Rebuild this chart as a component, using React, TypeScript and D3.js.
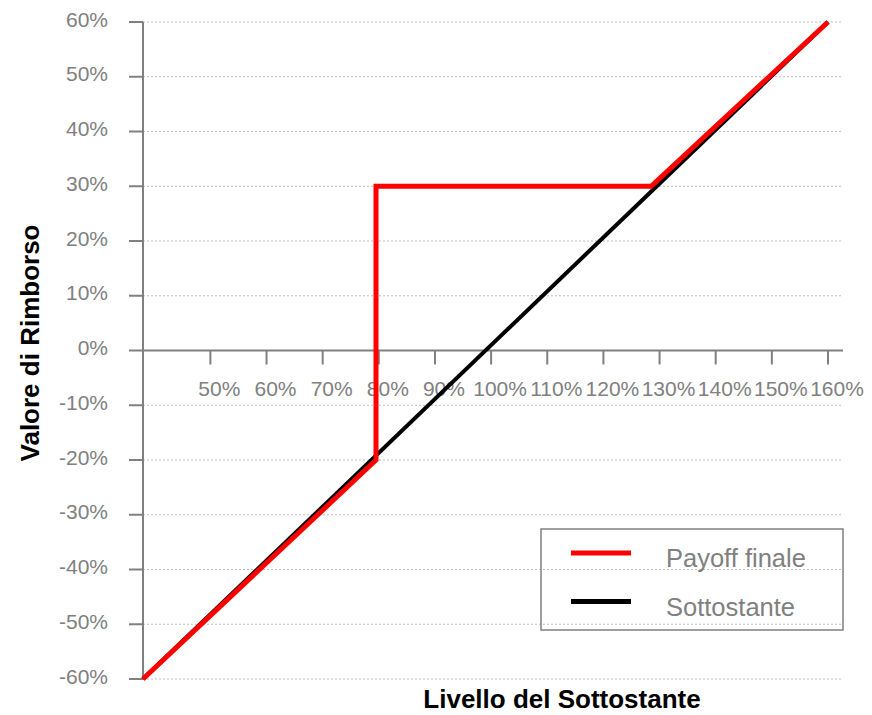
import React from "react";
import * as d3 from "d3";

// Underlying level (%) and redemption value (%)
const underlyingX = [38, 160];
const underlyingY = [-60, 60];

const payoffX = [38, 79.5, 79.5, 128.5, 160];
const payoffY = [-60, -20, 30, 30, 60];

const yTicks = [60, 50, 40, 30, 20, 10, 0, -10, -20, -30, -40, -50, -60];
const xTicks = [50, 60, 70, 80, 90, 100, 110, 120, 130, 140, 150, 160];

const seriesNames = ["Payoff finale", "Sottostante"];
const seriesColors = ["#ff0000", "#000000"];

const W = 872;
const H = 715;
const FONT = "'Liberation Sans', Arial, Helvetica, sans-serif";
const GRAY = "#808080";

export default function App() {
  const x = d3.scaleLinear().domain([38, 160]).range([143, 828]);
  const y = d3.scaleLinear().domain([-60, 60]).range([679, 22]);
  const gridRight = 843;

  const line = d3
    .line<[number, number]>()
    .x((d) => x(d[0]))
    .y((d) => y(d[1]));

  const under: [number, number][] = underlyingX.map((v, i) => [v, underlyingY[i]]);
  const payoff: [number, number][] = payoffX.map((v, i) => [v, payoffY[i]]);

  const legend = { x0: 541, y0: 529, x1: 843, y1: 630 };

  return (
    <svg
      width={W}
      height={H}
      style={{ position: "absolute", left: 0, top: 0, background: "#fff" }}
      fontFamily={FONT}
    >
      {/* horizontal gridlines */}
      {yTicks
        .filter((t) => t !== 0)
        .map((t) => (
          <line
            key={"g" + t}
            x1={x(38)}
            x2={gridRight}
            y1={y(t)}
            y2={y(t)}
            stroke="#bdbdbd"
            strokeWidth={1}
            strokeDasharray="2,2"
          />
        ))}

      {/* y axis */}
      <line x1={x(38)} x2={x(38)} y1={y(60)} y2={y(-60)} stroke={GRAY} strokeWidth={2} />
      {yTicks.map((t) => (
        <g key={"y" + t}>
          <line x1={x(38) - 14} x2={x(38)} y1={y(t)} y2={y(t)} stroke={GRAY} strokeWidth={2} />
          <text
            x={108}
            y={y(t) + 4.5}
            textAnchor="end"
            fontSize={21}
            fill={GRAY}
          >
            {t + "%"}
          </text>
        </g>
      ))}

      {/* x axis on the zero line */}
      <line x1={x(38)} x2={gridRight} y1={y(0)} y2={y(0)} stroke={GRAY} strokeWidth={2} />
      {xTicks.map((t) => (
        <g key={"x" + t}>
          <line x1={x(t)} x2={x(t)} y1={y(0)} y2={y(0) + 14} stroke={GRAY} strokeWidth={2} />
          <text x={x(t) + 9} y={396} textAnchor="middle" fontSize={21} fill={GRAY}>
            {t + "%"}
          </text>
        </g>
      ))}

      {/* series */}
      <path d={line(under) || ""} fill="none" stroke={seriesColors[1]} strokeWidth={4} />
      <path
        d={line(payoff) || ""}
        fill="none"
        stroke={seriesColors[0]}
        strokeWidth={5}
        strokeLinejoin="miter"
      />

      {/* legend */}
      <rect
        x={legend.x0}
        y={legend.y0}
        width={legend.x1 - legend.x0}
        height={legend.y1 - legend.y0}
        fill="none"
        stroke={GRAY}
        strokeWidth={1.5}
      />
      {seriesNames.map((name, i) => {
        const ly = 553 + i * 48.5;
        return (
          <g key={name}>
            <line x1={571} x2={631} y1={ly} y2={ly} stroke={seriesColors[i]} strokeWidth={5} />
            <text x={666} y={ly + 14} fontSize={25.5} fill={GRAY}>
              {name}
            </text>
          </g>
        );
      })}

      {/* axis titles */}
      <text x={562} y={708} textAnchor="middle" fontSize={26} fontWeight="bold" fill="#000">
        Livello del Sottostante
      </text>
      <text
        transform={`translate(39, 343) rotate(-90)`}
        textAnchor="middle"
        fontSize={26}
        fontWeight="bold"
        fill="#000"
      >
        Valore di Rimborso
      </text>
    </svg>
  );
}
